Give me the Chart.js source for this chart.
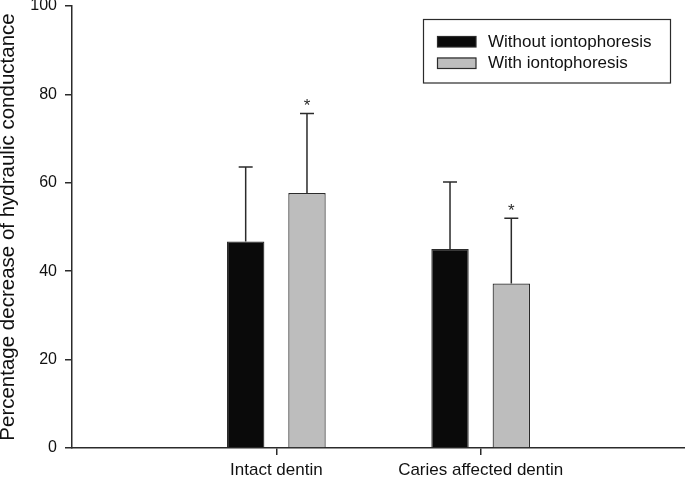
<!DOCTYPE html>
<html>
<head>
<meta charset="utf-8">
<script src="https://cdn.jsdelivr.net/npm/chart.js@4"></script>
<style>
  body { margin: 0; background: #fff; }
  #chart { display: block; }
</style>
</head>
<body>
<canvas id="chart" width="685" height="479"></canvas>
<script>
// Data
const categories = ['Intact dentin', 'Caries affected dentin'];
const withoutIonto = [46.7, 45.0];
const withoutIontoSD = [16.9, 15.2];
const withIonto = [57.7, 37.2];
const withIontoSD = [18.0, 14.8];
const withIontoSignif = [true, true];
const yTicks = [0, 20, 40, 60, 80, 100];

const FONT = '"Liberation Sans", Arial, sans-serif';
const INK = '#2b2b2b';

// pad the category axis so the two groups sit at 1/3 and 2/3 of the width
const labels = ['', ...categories, ''];
const pad = arr => [null, ...arr, null];

// Error bars + significance stars
const errorBars = {
  id: 'errorBars',
  afterDatasetsDraw(chart) {
    const ctx = chart.ctx;
    const y = chart.scales.y;
    ctx.save();
    ctx.strokeStyle = INK;
    ctx.lineWidth = 1.5;
    chart.data.datasets.forEach((ds, di) => {
      const meta = chart.getDatasetMeta(di);
      meta.data.forEach((bar, i) => {
        const v = ds.data[i];
        if (v == null) return;
        const sd = ds.sd[i];
        const yTop = y.getPixelForValue(v + sd);
        ctx.beginPath();
        ctx.moveTo(bar.x, bar.y);
        ctx.lineTo(bar.x, yTop);
        ctx.moveTo(bar.x - 7, yTop);
        ctx.lineTo(bar.x + 7, yTop);
        ctx.stroke();
        if (ds.signif && ds.signif[i]) {
          ctx.fillStyle = INK;
          ctx.font = '17px ' + FONT;
          ctx.textAlign = 'center';
          ctx.textBaseline = 'alphabetic';
          ctx.fillText('*', bar.x, yTop - 2);
        }
      });
    });
    ctx.restore();
  }
};

// Boxed legend in the upper right
const boxLegend = {
  id: 'boxLegend',
  afterDraw(chart) {
    const ctx = chart.ctx;
    ctx.save();
    ctx.strokeStyle = INK;
    ctx.lineWidth = 1.2;
    ctx.strokeRect(423.5, 19.5, 247, 63.5);
    ctx.font = '17px ' + FONT;
    ctx.textBaseline = 'middle';
    ctx.textAlign = 'left';
    chart.data.datasets.forEach((ds, i) => {
      const top = 36 + i * 21.5;
      ctx.fillStyle = ds.backgroundColor;
      ctx.fillRect(437, top, 39, 11);
      ctx.lineWidth = 1.2;
      ctx.strokeRect(437.5, top + 0.5, 38.5, 10.5);
      ctx.fillStyle = '#111';
      ctx.fillText(ds.label, 488, top + 6);
    });
    ctx.restore();
  }
};

new Chart(document.getElementById('chart'), {
  type: 'bar',
  data: {
    labels: labels,
    datasets: [
      {
        label: 'Without iontophoresis',
        data: pad(withoutIonto),
        sd: pad(withoutIontoSD),
        backgroundColor: '#0a0a0a',
        borderColor: INK,
        borderWidth: 1.2
      },
      {
        label: 'With iontophoresis',
        data: pad(withIonto),
        sd: pad(withIontoSD),
        signif: pad(withIontoSignif),
        backgroundColor: '#bdbdbd',
        borderColor: INK,
        borderWidth: 1.2
      }
    ]
  },
  options: {
    responsive: false,
    animation: false,
    categoryPercentage: 0.6,
    barPercentage: 0.61,
    layout: { padding: { top: 6, right: 0, left: 0, bottom: 0 } },
    plugins: {
      legend: { display: false },
      tooltip: { enabled: false }
    },
    scales: {
      x: {
        offset: false,
        grid: {
          offset: false,
          drawOnChartArea: false,
          tickLength: 7,
          lineWidth: 1.5,
          color: c => (c.index === 1 || c.index === 2) ? INK : 'rgba(0,0,0,0)'
        },
        border: { color: INK, width: 1.5 },
        ticks: {
          autoSkip: false,
          maxRotation: 0,
          padding: 5,
          color: '#111',
          font: { family: FONT, size: 17 }
        },
        afterFit: s => { s.height = 31; s.paddingLeft = 0; s.paddingRight = 0; }
      },
      y: {
        min: 0,
        max: 100,
        afterBuildTicks: s => { s.ticks = yTicks.map(v => ({ value: v })); },
        grid: { drawOnChartArea: false, tickLength: 7, lineWidth: 1.5, color: INK },
        border: { color: INK, width: 1.5 },
        ticks: {
          padding: 8,
          color: '#111',
          font: { family: FONT, size: 16 }
        },
        title: {
          display: true,
          text: 'Percentage decrease of hydraulic conductance',
          color: '#111',
          padding: 0,
          font: { family: FONT, size: 20.5, lineHeight: 0.85 }
        },
        afterFit: s => { s.width = 72; s.paddingTop = 0; s.paddingBottom = 0; }
      }
    }
  },
  plugins: [errorBars, boxLegend]
});
</script>
</body>
</html>
